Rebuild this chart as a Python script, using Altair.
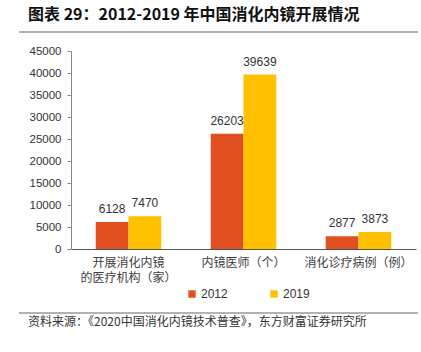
import altair as alt
import pandas as pd

categories = ["开展消化内镜的医疗机构（家）", "内镜医师（个）", "消化诊疗病例（例）"]
years = ["2012", "2019"]
values_2012 = [6128, 26203, 2877]
values_2019 = [7470, 39639, 3873]

rows = []
for c, a, b in zip(categories, values_2012, values_2019):
    rows.append({"cat": c, "year": "2012", "value": a})
    rows.append({"cat": c, "year": "2019", "value": b})
df = pd.DataFrame(rows)

FONT_CJK = "Noto Sans CJK SC"
FONT_NUM = "Liberation Sans"

x = alt.X("cat:N", sort=categories, title=None,
          scale=alt.Scale(paddingInner=0.43, paddingOuter=0.215),
          axis=alt.Axis(labelAngle=0, ticks=False, domainColor="#555555",
                        labelFont=FONT_CJK, labelFontSize=12, labelColor="#404040",
                        labelPadding=8, labelLineHeight=15,
                        labelExpr="datum.label == '开展消化内镜的医疗机构（家）' ? ['开展消化内镜', '的医疗机构（家）'] : datum.label"))
y = alt.Y("value:Q", title=None,
          scale=alt.Scale(domain=[0, 45000]),
          axis=alt.Axis(values=list(range(0, 45001, 5000)), grid=False, format="d",
                        domainColor="#888888", tickColor="#888888", tickSize=4,
                        labelFont=FONT_NUM, labelFontSize=11.5, labelColor="#333333",
                        labelPadding=6))

color = alt.Color("year:N", scale=alt.Scale(domain=years, range=["#E04F1F", "#FFC000"]),
                  legend=alt.Legend(title=None, orient="none", direction="horizontal",
                                    legendX=115, legendY=237, symbolType="square",
                                    symbolSize=55, symbolStrokeWidth=0,
                                    labelFont=FONT_NUM, labelFontSize=12, labelColor="#333333",
                                    columnPadding=40, labelOffset=3))

base = alt.Chart(df)
bars = base.mark_bar().encode(x=x, y=y, xOffset=alt.XOffset("year:N", sort=years), color=color)
labels = base.mark_text(dy=-13, font=FONT_NUM, fontSize=12, color="#333333").encode(
    x=x, y=y, xOffset=alt.XOffset("year:N", sort=years), text="value:Q")

title_txt = alt.Chart(pd.DataFrame({"t": ["图表 29：2012-2019 年中国消化内镜开展情况"]})).mark_text(
    align="left", baseline="middle", font=FONT_CJK, fontSize=16, fontWeight="bold", color="#111111"
).encode(x=alt.value(-43), y=alt.value(-36), text="t:N")

source_txt = alt.Chart(pd.DataFrame({"t": ["资料来源：《2020中国消化内镜技术普查》，东方财富证券研究所"]})).mark_text(
    align="left", baseline="middle", font=FONT_CJK, fontSize=12, color="#333333"
).encode(x=alt.value(-43), y=alt.value(271), text="t:N")

top_line = alt.Chart(pd.DataFrame({"a": [0]})).mark_rule(color="#666666", strokeWidth=1.2).encode(
    x=alt.value(-52), x2=alt.value(347), y=alt.value(-19))
bot_line = alt.Chart(pd.DataFrame({"a": [0]})).mark_rule(color="#666666", strokeWidth=1.2).encode(
    x=alt.value(-52), x2=alt.value(347), y=alt.value(262))

chart = alt.layer(bars, labels, title_txt, source_txt, top_line, bot_line).properties(
    width=345, height=198,
    padding={"left": 71, "top": 51, "right": 5, "bottom": 98},
    autosize=alt.AutoSizeParams(type="none"),
    background="white",
).configure_view(stroke=None)

chart.save("out.html", embed_options={"renderer": "svg", "actions": False})
